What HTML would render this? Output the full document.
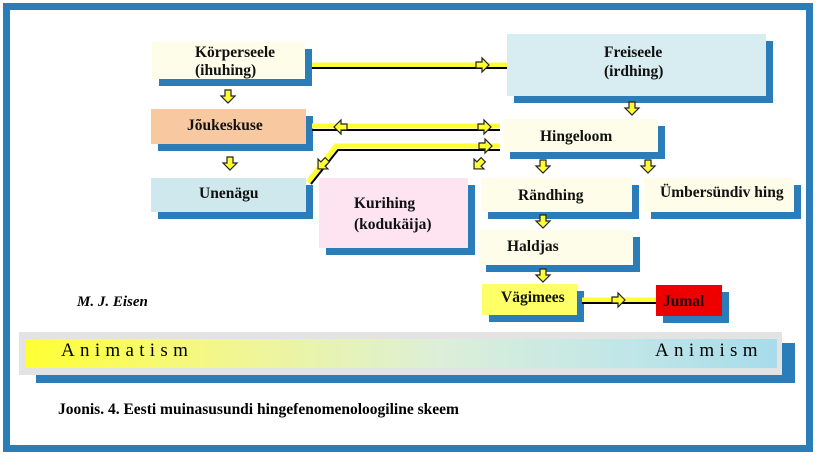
<!DOCTYPE html>
<html><head><meta charset="utf-8"><style>
body{margin:0;width:818px;height:457px;background:#fff;position:relative;overflow:hidden;font-family:"Liberation Serif",serif;}
.f{position:absolute;border:7px solid #2a7db9;left:3px;top:3px;width:796px;height:435px;}
.b{position:absolute;box-shadow:7px 7px 0 #2a7db9;font-weight:bold;font-size:15.5px;color:#111;}
.t{position:absolute;white-space:nowrap;}
svg{position:absolute;left:0;top:0}
</style></head><body>
<div class="f"></div>
<div class="b" style="left:152px;top:42px;width:153px;height:37px;background:#fdfde9"><div class="t" style="left:43px;top:2px;line-height:18px">Körperseele<br>(ihuhing)</div></div>
<div class="b" style="left:507px;top:34px;width:259px;height:62px;background:#d8edf2"><div class="t" style="left:97px;top:9px;line-height:19px">Freiseele<br>(irdhing)</div></div>
<div class="b" style="left:151px;top:109px;width:155px;height:35px;background:#f8c9a0"><div class="t" style="left:36px;top:8px">Jõukeskuse</div></div>
<div class="b" style="left:503px;top:119px;width:155px;height:33px;background:#fdfde9"><div class="t" style="left:37px;top:9px">Hingeloom</div></div>
<div class="b" style="left:151px;top:178px;width:155px;height:34px;background:#cfe8ee"><div class="t" style="left:48px;top:7px">Unenägu</div></div>
<div class="b" style="left:319px;top:178px;width:149px;height:70px;background:#fde4f0"><div class="t" style="left:35px;top:15px;line-height:21px">Kurihing<br>(kodukäija)</div></div>
<div class="b" style="left:481px;top:178px;width:151px;height:34px;background:#fdfde9"><div class="t" style="left:37px;top:9px">Rändhing</div></div>
<div class="b" style="left:644px;top:178px;width:150px;height:34px;background:#fdfde9"><div class="t" style="left:16px;top:6px">Ümbersündiv hing</div></div>
<div class="b" style="left:479px;top:230px;width:154px;height:35px;background:#fdfde9"><div class="t" style="left:28px;top:8px">Haldjas</div></div>
<div class="b" style="left:482px;top:284px;width:95px;height:31px;background:#ffff66"><div class="t" style="left:19px;top:5px">Vägimees</div></div>
<div class="b" style="left:656px;top:285px;width:66px;height:31px;background:#ee0000"><div class="t" style="left:7px;top:8px">Jumal</div></div>
<div class="t" style="left:77px;top:294px;font-style:italic;font-weight:bold;font-size:15px">M. J. Eisen</div>
<div class="t" style="left:36px;top:343px;width:759px;height:40px;background:#2a7db9"></div>
<div class="t" style="left:19px;top:332px;width:763px;height:43px;background:#e3e3e3"></div>
<div class="t" style="left:26px;top:339px;width:751px;height:29px;background:linear-gradient(to right,#ffff33 0%,#f3f78a 25%,#dcefd8 55%,#c0e6e8 80%,#a8dcea 100%)"></div>
<div class="t" style="left:61px;top:340px;font-size:19px;letter-spacing:5.3px">Animatism</div>
<div class="t" style="left:655px;top:340px;font-size:19px;letter-spacing:5.3px">Animism</div>
<div class="t" style="left:58px;top:401px;font-weight:bold;font-size:15.5px">Joonis. 4. Eesti muinasusundi hingefenomenoloogiline skeem</div>
<svg width="818" height="457">
<defs>
<path id="a" d="M-3,-6 H3 V0 H7 L0,7 L-7,0 H-3 Z" fill="#ffff33" stroke="#222" stroke-width="1.2"/>
</defs>
<g stroke-linecap="butt">
<line x1="312" y1="65" x2="507" y2="65" stroke="#ffff33" stroke-width="5"/><line x1="312" y1="68" x2="507" y2="68" stroke="#000" stroke-width="2"/>
<line x1="312" y1="126" x2="500" y2="126" stroke="#ffff33" stroke-width="5"/><line x1="312" y1="130" x2="500" y2="130" stroke="#000" stroke-width="2"/>
<polyline points="308,182 336,146 500,146" fill="none" stroke="#ffff33" stroke-width="5"/><polyline points="311,184 338,150 500,150" fill="none" stroke="#000" stroke-width="2"/>
<line x1="582" y1="300" x2="656" y2="300" stroke="#ffff33" stroke-width="5"/><line x1="582" y1="303" x2="656" y2="303" stroke="#000" stroke-width="2"/>
</g>
<use href="#a" transform="translate(228,96)"/>
<use href="#a" transform="translate(230,163)"/>
<use href="#a" transform="translate(632,108)"/>
<use href="#a" transform="translate(543,166)"/>
<use href="#a" transform="translate(648,166)"/>
<use href="#a" transform="translate(543,221)"/>
<use href="#a" transform="translate(543,275)"/>
<use href="#a" transform="translate(482,65) rotate(-90)"/>
<use href="#a" transform="translate(484,127) rotate(-90)"/>
<use href="#a" transform="translate(485,146) rotate(-90)"/>
<use href="#a" transform="translate(341,127) rotate(90)"/>
<use href="#a" transform="translate(618,300) rotate(-90)"/>
<use href="#a" transform="translate(323,164) rotate(45)"/>
<use href="#a" transform="translate(479,164) rotate(45)"/>
</svg>
</body></html>
